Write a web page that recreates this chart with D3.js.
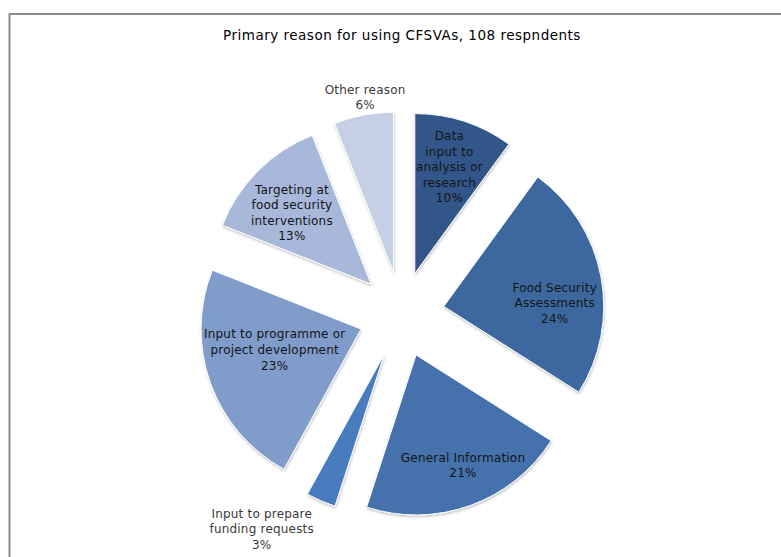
<!DOCTYPE html>
<html>
<head>
<meta charset="utf-8">
<script src="https://cdn.jsdelivr.net/npm/d3@7/dist/d3.min.js"></script>
<style>
  html, body { margin: 0; padding: 0; background: #ffffff; }
  svg { display: block; }
  text { font-family: "DejaVu Sans", "Liberation Sans", sans-serif; }
</style>
</head>
<body>
<svg id="chart" width="781" height="557"></svg>
<script>
// Survey answers, share of respondents (%), clockwise from 12 o'clock
const categories = [
  "Data\ninput to\nanalysis or\nresearch",
  "Food Security\nAssessments",
  "General Information",
  "Input to prepare\nfunding requests",
  "Input to programme or\nproject development",
  "Targeting at\nfood security\ninterventions",
  "Other reason"
];
const shares = [10, 24, 21, 3, 23, 13, 6];
const sliceColors = ["#33568a", "#3e689f", "#4471ad", "#4a7cbf", "#7f9ccb", "#a7b8da", "#c5d0e5"];
const titleText = "Primary reason for using CFSVAs, 108 respndents";

const W = 781, H = 557;
const cx = 401.5, cy = 314.5;   // pie centre
const R = 160;                  // slice radius
const explode = 43;             // distance each slice is pulled out
const insideFrac = 0.7;         // label radius for inside labels
const outsideGap = 18;          // label distance beyond the rim for small slices
const smallShare = 7;           // below this share the label sits outside
// label fine placement (dx, dy) per slice
const labelNudge = [[0, 0], [1, 18], [9, 5], [-52, 12], [19, -17], [0, 8], [5, 0]];
const lineH = 15.6;

const svg = d3.select("#chart");

// soft shadow under the slices
const defs = svg.append("defs");
const f = defs.append("filter").attr("id", "soft").attr("x", "-10%").attr("y", "-10%")
  .attr("width", "120%").attr("height", "120%");
f.append("feDropShadow").attr("dx", 0.5).attr("dy", 1.5).attr("stdDeviation", 1)
  .attr("flood-color", "#000").attr("flood-opacity", 0.25);

// chart frame
svg.append("rect")
  .attr("x", 9.5).attr("y", 14)
  .attr("width", W + 20).attr("height", H + 20)
  .attr("fill", "#ffffff")
  .attr("stroke", "#7f7f7f").attr("stroke-width", 1.8);

// title
svg.append("text")
  .attr("x", 402).attr("y", 40)
  .attr("text-anchor", "middle")
  .attr("font-size", 13.5)
  .attr("letter-spacing", 0.5)
  .attr("fill", "#000")
  .text(titleText);

const data = categories.map((c, i) => ({ label: c, value: shares[i], color: sliceColors[i], idx: i }));

const pie = d3.pie().sort(null).value(d => d.value).startAngle(0).endAngle(2 * Math.PI);
const arcs = pie(data);
const arc = d3.arc().innerRadius(0).outerRadius(R);

const mid = a => (a.startAngle + a.endAngle) / 2;
const polar = (ang, rad) => [rad * Math.sin(ang), -rad * Math.cos(ang)];

const g = svg.append("g").attr("transform", `translate(${cx},${cy})`);

g.selectAll("path.slice")
  .data(arcs)
  .enter().append("path")
  .attr("class", "slice")
  .attr("transform", a => {
    const [ox, oy] = polar(mid(a), explode);
    return `translate(${ox},${oy})`;
  })
  .attr("d", arc)
  .attr("fill", a => a.data.color)
  .attr("stroke", "#ffffff")
  .attr("stroke-width", 1)
  .attr("filter", "url(#soft)");

// data labels
g.selectAll("text.lbl")
  .data(arcs)
  .enter().append("text")
  .attr("class", "lbl")
  .attr("text-anchor", "middle")
  .attr("font-size", 12)
  .attr("letter-spacing", 0.2)
  .attr("fill", a => a.data.value < smallShare ? "#3a3a3a" : "#141414")
  .each(function (a) {
    const m = mid(a);
    const [ox, oy] = polar(m, explode);
    const rad = a.data.value < smallShare ? R + outsideGap : R * insideFrac;
    const [lx, ly] = polar(m, rad);
    const nd = labelNudge[a.data.idx];
    const px = ox + lx + nd[0], py = oy + ly + nd[1];
    const lines = a.data.label.split("\n").concat([a.data.value + "%"]);
    const top = py - (lines.length - 1) * lineH / 2 + 4;
    const t = d3.select(this);
    lines.forEach((ln, k) => {
      t.append("tspan").attr("x", px).attr("y", top + k * lineH).text(ln);
    });
  });
</script>
</body>
</html>
